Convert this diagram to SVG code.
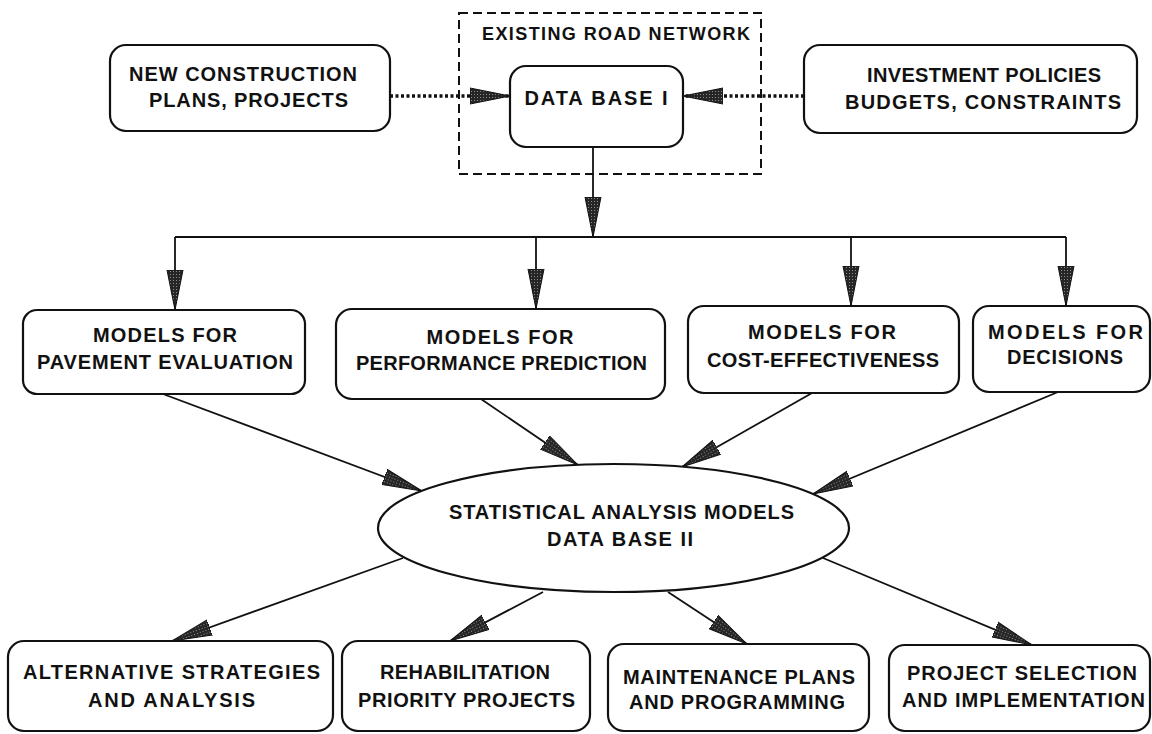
<svg xmlns="http://www.w3.org/2000/svg" width="1152" height="734" viewBox="0 0 1152 734">
  <defs>
    <pattern id="hatch" width="3" height="3" patternUnits="userSpaceOnUse">
      <rect width="3" height="3" fill="#262626"/>
      <rect x="1" y="1" width="1" height="1" fill="#8c8c8c"/>
    </pattern>
    <marker id="head" viewBox="0 0 40 18" refX="40" refY="9" markerWidth="40" markerHeight="18" markerUnits="userSpaceOnUse" orient="auto">
      <path d="M0,1 L40,9 L0,17 Z" fill="url(#hatch)" stroke="#111" stroke-width="1"/>
    </marker>
  </defs>
  <style>
    .box { fill: #fff; stroke: #111; stroke-width: 2.2; }
    .frame { fill: none; stroke: #111; stroke-width: 2; stroke-dasharray: 9 5; }
    .t { font-family: "Liberation Sans", Arial, sans-serif; font-weight: bold; font-size: 20px; fill: #111; text-anchor: middle; }
    .small { font-size: 18px; }
    .link { fill: none; stroke: #111; stroke-width: 1.8; }
    .arrow { marker-end: url(#head); }
    .dots { stroke-width: 3.5; stroke-dasharray: 3 2.5; }
  </style>
  <rect width="1152" height="734" fill="#fff"/>

  <!-- connectors -->
  <g id="connectors">
    <path class="link dots arrow" d="M390,96 L510,96"/>
    <path class="link dots arrow" d="M804,96 L683,96"/>
    <path class="link arrow" d="M593,147 L593,237"/>
    <path class="link" d="M175,237 L1066,237"/>
    <path class="link arrow" d="M175,237 L175,310"/>
    <path class="link arrow" d="M536,237 L536,309"/>
    <path class="link arrow" d="M851,237 L851,306"/>
    <path class="link arrow" d="M1066,237 L1066,306"/>
    <path class="link arrow" d="M163,394 L422,491"/>
    <path class="link arrow" d="M481,399 L578,465"/>
    <path class="link arrow" d="M812,393 L682,467"/>
    <path class="link arrow" d="M1058,392 L813,494"/>
    <path class="link arrow" d="M403,558 L172,641"/>
    <path class="link arrow" d="M543,592 L450,641"/>
    <path class="link arrow" d="M668,592 L747,644"/>
    <path class="link arrow" d="M823,558 L1032,645"/>
  </g>

  <!-- existing road network frame -->
  <g id="road-network">
    <rect class="frame" x="459" y="13" width="302" height="161"/>
    <text class="t small" x="616" y="40" textLength="268" lengthAdjust="spacing">EXISTING ROAD NETWORK</text>
  </g>

  <g id="data-base-1">
    <rect class="box" x="510" y="66" width="173" height="81" rx="16"/>
    <text class="t" x="596" y="105" textLength="143" lengthAdjust="spacing">DATA BASE I</text>
  </g>

  <g id="new-construction">
    <rect class="box" x="110" y="45" width="280" height="86" rx="16"/>
    <text class="t" x="243" y="81" textLength="228" lengthAdjust="spacing">NEW CONSTRUCTION</text>
    <text class="t" x="248.5" y="107" textLength="199" lengthAdjust="spacing">PLANS, PROJECTS</text>
  </g>

  <g id="investment">
    <rect class="box" x="804" y="45" width="333" height="88" rx="16"/>
    <text class="t" x="984" y="82" textLength="234" lengthAdjust="spacing">INVESTMENT POLICIES</text>
    <text class="t" x="983" y="109" textLength="276" lengthAdjust="spacing">BUDGETS, CONSTRAINTS</text>
  </g>

  <g id="pavement-evaluation">
    <rect class="box" x="23" y="310" width="282" height="84" rx="14"/>
    <text class="t" x="165" y="342" textLength="144" lengthAdjust="spacing">MODELS FOR</text>
    <text class="t" x="165" y="369" textLength="256" lengthAdjust="spacing">PAVEMENT EVALUATION</text>
  </g>

  <g id="performance-prediction">
    <rect class="box" x="336" y="309" width="329" height="90" rx="16"/>
    <text class="t" x="500" y="344" textLength="147" lengthAdjust="spacing">MODELS FOR</text>
    <text class="t" x="501.5" y="370" textLength="291" lengthAdjust="spacing">PERFORMANCE PREDICTION</text>
  </g>

  <g id="cost-effectiveness">
    <rect class="box" x="688" y="306" width="271" height="87" rx="16"/>
    <text class="t" x="822" y="339" textLength="148" lengthAdjust="spacing">MODELS FOR</text>
    <text class="t" x="823" y="367" textLength="232" lengthAdjust="spacing">COST-EFFECTIVENESS</text>
  </g>

  <g id="decisions">
    <rect class="box" x="973" y="306" width="177" height="86" rx="16"/>
    <text class="t" x="1065.5" y="339" textLength="155" lengthAdjust="spacing">MODELS FOR</text>
    <text class="t" x="1065" y="364" textLength="116" lengthAdjust="spacing">DECISIONS</text>
  </g>

  <g id="data-base-2">
    <ellipse class="box" cx="613.5" cy="528" rx="235.5" ry="64"/>
    <text class="t" x="621.5" y="519" textLength="345" lengthAdjust="spacing">STATISTICAL ANALYSIS MODELS</text>
    <text class="t" x="620" y="546" textLength="146" lengthAdjust="spacing">DATA BASE II</text>
  </g>

  <g id="alternative-strategies">
    <rect class="box" x="8" y="641" width="325" height="90" rx="16"/>
    <text class="t" x="171.5" y="679" textLength="297" lengthAdjust="spacing">ALTERNATIVE STRATEGIES</text>
    <text class="t" x="171.5" y="707" textLength="167" lengthAdjust="spacing">AND ANALYSIS</text>
  </g>

  <g id="rehabilitation">
    <rect class="box" x="342" y="641" width="248" height="90" rx="16"/>
    <text class="t" x="465" y="679" textLength="170" lengthAdjust="spacing">REHABILITATION</text>
    <text class="t" x="466.5" y="707" textLength="217" lengthAdjust="spacing">PRIORITY PROJECTS</text>
  </g>

  <g id="maintenance">
    <rect class="box" x="608" y="644" width="261" height="87" rx="16"/>
    <text class="t" x="739" y="684" textLength="232" lengthAdjust="spacing">MAINTENANCE PLANS</text>
    <text class="t" x="737" y="709" textLength="216" lengthAdjust="spacing">AND PROGRAMMING</text>
  </g>

  <g id="project-selection">
    <rect class="box" x="889" y="645" width="261" height="86" rx="16"/>
    <text class="t" x="1022" y="680" textLength="230" lengthAdjust="spacing">PROJECT SELECTION</text>
    <text class="t" x="1023.5" y="707" textLength="243" lengthAdjust="spacing">AND IMPLEMENTATION</text>
  </g>
</svg>
